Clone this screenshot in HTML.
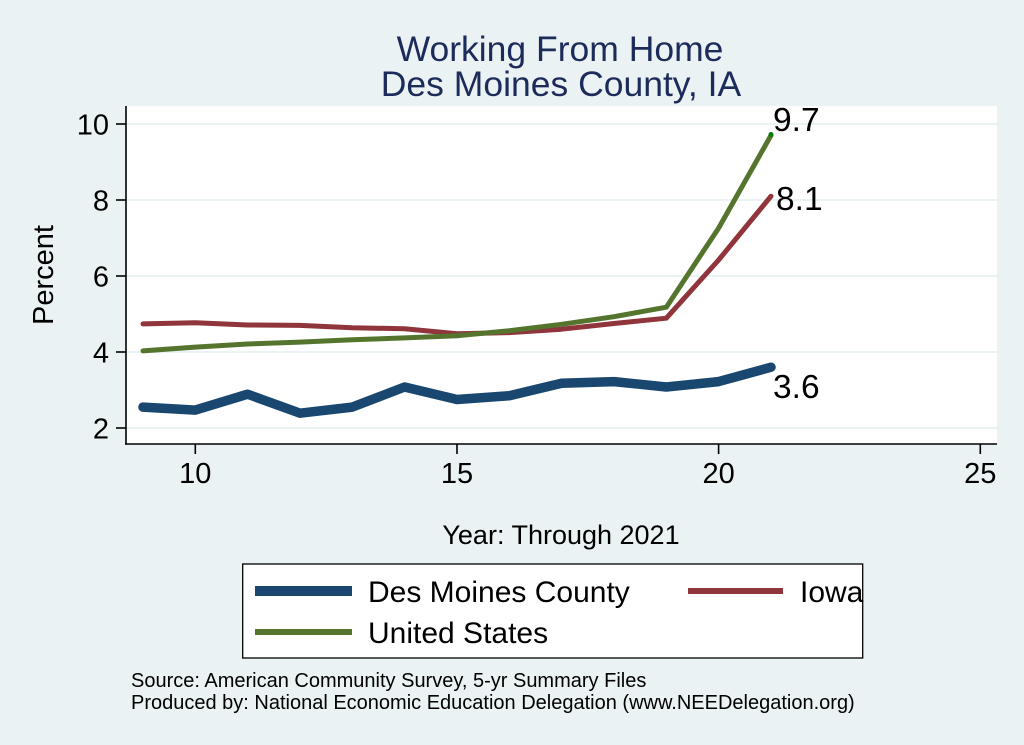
<!DOCTYPE html>
<html>
<head>
<meta charset="utf-8">
<style>
  html, body { margin:0; padding:0; background:#eaf2f3; }
  svg { display:block; }
  text { font-family: "Liberation Sans", Arial, Helvetica, sans-serif; }
</style>
</head>
<body>
<svg width="1024" height="745" viewBox="0 0 1024 745" xmlns="http://www.w3.org/2000/svg">
  <rect x="0" y="0" width="1024" height="745" fill="#eaf2f3"/>

  <!-- Title -->
  <text x="560" y="61" font-size="35.5" fill="#1c2b59" text-anchor="middle">Working From Home</text>
  <text x="561" y="96" font-size="35.5" fill="#1c2b59" text-anchor="middle">Des Moines County, IA</text>

  <!-- Plot region -->
  <rect x="126" y="106" width="871" height="338" fill="#ffffff"/>

  <!-- gridlines -->
  <g stroke="#eaf2f3" stroke-width="2">
    <line x1="126" y1="124" x2="997" y2="124"/>
    <line x1="126" y1="200" x2="997" y2="200"/>
    <line x1="126" y1="276" x2="997" y2="276"/>
    <line x1="126" y1="352" x2="997" y2="352"/>
    <line x1="126" y1="428" x2="997" y2="428"/>
  </g>

  <!-- axes -->
  <g stroke="#000" stroke-width="1.6">
    <line x1="126" y1="106" x2="126" y2="444.8"/>
    <line x1="125.2" y1="444" x2="997" y2="444"/>
    <line x1="116" y1="124" x2="126" y2="124"/>
    <line x1="116" y1="200" x2="126" y2="200"/>
    <line x1="116" y1="276" x2="126" y2="276"/>
    <line x1="116" y1="352" x2="126" y2="352"/>
    <line x1="116" y1="428" x2="126" y2="428"/>
    <line x1="195.3" y1="444" x2="195.3" y2="454"/>
    <line x1="457" y1="444" x2="457" y2="454"/>
    <line x1="718.6" y1="444" x2="718.6" y2="454"/>
    <line x1="980.3" y1="444" x2="980.3" y2="454"/>
  </g>

  <!-- y tick labels -->
  <g font-size="29" fill="#000" text-anchor="end">
    <text x="109" y="134.5">10</text>
    <text x="109" y="210.5">8</text>
    <text x="109" y="286.5">6</text>
    <text x="109" y="362.5">4</text>
    <text x="109" y="438.5">2</text>
  </g>

  <!-- x tick labels -->
  <g font-size="29" fill="#000" text-anchor="middle">
    <text x="195.3" y="483">10</text>
    <text x="457" y="483">15</text>
    <text x="718.6" y="483">20</text>
    <text x="980.3" y="483">25</text>
  </g>

  <!-- axis titles -->
  <text transform="translate(53,275) rotate(-90)" font-size="29" fill="#000" text-anchor="middle">Percent</text>
  <text x="561" y="544" font-size="27" fill="#000" text-anchor="middle">Year: Through 2021</text>

  <!-- series -->
  <polyline fill="none" stroke="#1a476f" stroke-width="9.5" stroke-linejoin="round" stroke-linecap="round"
    points="143,407.1 195.3,410.1 247.6,394.2 300,413.2 352.3,407.1 404.6,387 457,399.5 509.3,395.7 561.6,383.2 614,381.6 666.3,387 718.6,381.6 771,367.2"/>
  <polyline fill="none" stroke="#90353b" stroke-width="5" stroke-linejoin="round" stroke-linecap="round"
    points="143,323.9 195.3,322.7 247.6,325 300,325.4 352.3,327.7 404.6,328.8 457,333.8 509.3,332.6 561.6,329.2 614,323.5 666.3,318.2 718.6,260 771,196.2"/>
  <polyline fill="none" stroke="#55752f" stroke-width="5" stroke-linejoin="round" stroke-linecap="round"
    points="143,350.9 195.3,347.1 247.6,344 300,342.1 352.3,339.8 404.6,337.9 457,335.7 509.3,330.7 561.6,324.3 614,316.7 666.3,307.2 718.6,228.1 771,135.4"/>
  <circle cx="771" cy="134.5" r="2.5" fill="#008000"/>

  <!-- value labels -->
  <g font-size="33.5" fill="#000">
    <text x="773" y="131">9.7</text>
    <text x="776" y="210">8.1</text>
    <text x="773" y="398">3.6</text>
  </g>

  <!-- legend -->
  <rect x="242.7" y="564" width="620" height="94" fill="#ffffff" stroke="#000" stroke-width="1.3"/>
  <line x1="255" y1="591" x2="352" y2="591" stroke="#1a476f" stroke-width="10"/>
  <line x1="688" y1="591" x2="783" y2="591" stroke="#90353b" stroke-width="6"/>
  <line x1="255" y1="632" x2="352" y2="632" stroke="#55752f" stroke-width="6"/>
  <g font-size="30" fill="#000">
    <text x="368" y="602">Des Moines County</text>
    <text x="800" y="602">Iowa</text>
    <text x="368" y="643">United States</text>
  </g>

  <!-- notes -->
  <g font-size="20" fill="#000">
    <text x="131" y="687">Source: American Community Survey, 5-yr Summary Files</text>
    <text x="131" y="709">Produced by: National Economic Education Delegation (www.NEEDelegation.org)</text>
  </g>
</svg>
</body>
</html>
